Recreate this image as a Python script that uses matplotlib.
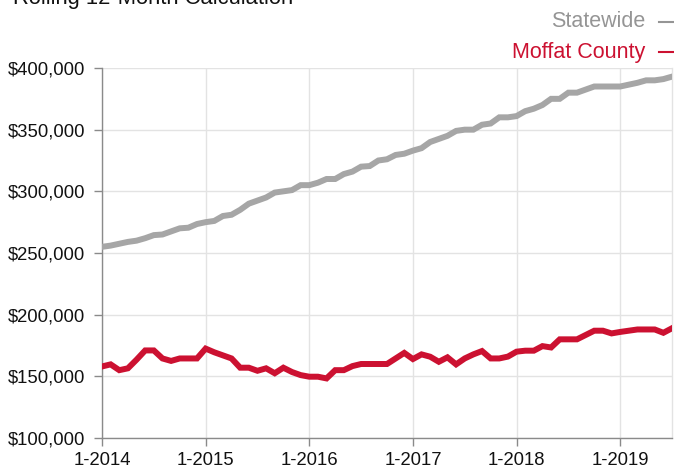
import matplotlib
matplotlib.use("Agg")
import matplotlib.pyplot as plt
from matplotlib.lines import Line2D
from matplotlib.ticker import FuncFormatter

plt.rcParams['font.family'] = ['Liberation Sans', 'DejaVu Sans']

# Monthly values, 1-2014 through 7-2019 (thousands of dollars)
statewide = [255, 256, 257.5, 259, 260, 262, 264.5, 265, 267.5, 270, 270.5, 273.5,
             275, 276, 280, 281, 285, 290, 292.5, 295, 299, 300, 301, 305,
             305, 307, 310, 310, 314, 316, 320, 320.5, 325, 326, 329.5, 330.5,
             333, 335, 340, 342.5, 345, 349, 350, 350, 354, 355, 360, 360,
             361, 365, 367, 370, 375, 375, 380, 380, 382.5, 385, 385, 385,
             385, 386.5, 388, 390, 390, 391, 393]
moffat = [158, 159.7, 155, 156.5, 163.5, 171, 171, 164.5, 162.5, 164.5, 164.5, 164.5,
          172.5, 169.5, 167, 164.5, 157, 157, 154.5, 156.5, 152.5, 157, 153.5, 151,
          149.7, 149.7, 148.3, 155, 155, 158.3, 160, 160, 160, 160, 164.5, 169,
          164, 167.8, 165.9, 161.8, 165.4, 159.7, 164.5, 167.8, 170.5, 164.5, 164.5, 166,
          170, 170.8, 170.8, 174.5, 173.4, 180, 180, 180, 183.5, 187, 187, 184.8,
          186, 187, 188, 188, 188, 185.3, 189]
tick_labels = ['1-2014', '1-2015', '1-2016', '1-2017', '1-2018', '1-2019']
series_names = ['Statewide', 'Moffat County']

GREY_LINE = '#a6a6a6'
GREY_TEXT = '#959595'
RED = '#cc1131'

W, H = 674, 470
fig = plt.figure(figsize=(W / 100, H / 100), dpi=100)
ax = fig.add_axes([102 / W, (H - 438) / H, (672 - 102) / W, (438 - 68) / H])

months = list(range(len(statewide)))
ax.plot(months, [v * 1000 for v in statewide], color=GREY_LINE, lw=4.3,
        solid_joinstyle='miter', zorder=3)
ax.plot(months, [v * 1000 for v in moffat], color=RED, lw=4.3,
        solid_joinstyle='miter', zorder=4)

ax.set_xlim(0, 66)
ax.set_ylim(100000, 400000)
ax.set_yticks(range(100000, 400001, 50000))
ax.yaxis.set_major_formatter(FuncFormatter(lambda v, p: '${:,.0f}'.format(v)))
ax.set_xticks([12 * i for i in range(len(tick_labels))])
ax.set_xticklabels(tick_labels)

ax.grid(True, color='#e3e3e3', lw=1.0, zorder=0)
ax.set_axisbelow(True)
ax.spines['top'].set_visible(False)
ax.spines['right'].set_color('#e3e3e3')
ax.spines['right'].set_linewidth(1.0)
ax.spines['left'].set_color('#8a8a8a')
ax.spines['bottom'].set_color('#8a8a8a')
ax.spines['left'].set_linewidth(1.0)
ax.spines['bottom'].set_linewidth(1.0)
ax.tick_params(axis='both', colors='#8a8a8a', labelcolor='#111111',
               labelsize=13.3, length=6, width=1.0)
ax.tick_params(axis='x', pad=4)
ax.tick_params(axis='y', pad=6)

# Title (cut off at top in the reference)
fig.text(13 / W, 1 - 4 / H, 'Rolling 12-Month Calculation', fontsize=15.8,
         color='#111111', ha='left', va='baseline')

# Legend at top right
fig.text(645 / W, 1 - 27 / H, series_names[0], fontsize=15.5, color=GREY_TEXT,
         ha='right', va='baseline')
fig.text(645 / W, 1 - 58 / H, series_names[1], fontsize=15.5, color=RED,
         ha='right', va='baseline')
fig.add_artist(Line2D([659 / W, 674 / W], [1 - 21.5 / H, 1 - 21.5 / H],
                      transform=fig.transFigure, color=GREY_TEXT, lw=1.5))
fig.add_artist(Line2D([659 / W, 674 / W], [1 - 51.5 / H, 1 - 51.5 / H],
                      transform=fig.transFigure, color=RED, lw=1.5))

fig.savefig('out.png', dpi=100)
